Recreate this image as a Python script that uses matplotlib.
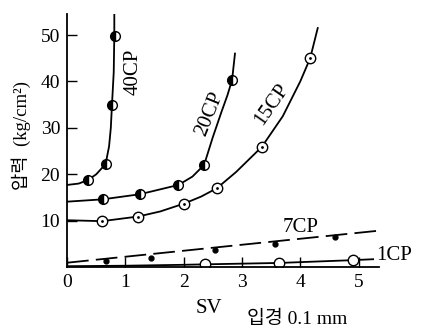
import matplotlib
matplotlib.use("Agg")
import matplotlib.pyplot as plt

plt.rcParams['font.family'] = ['Liberation Serif', 'Noto Sans CJK KR']

# curve traces (x = SV, y = pressure kg/cm2)
cp40_line_x = [0, 0.2, 0.365, 0.5, 0.66, 0.72, 0.75, 0.77, 0.8, 0.81, 0.81]
cp40_line_y = [17.7, 18.0, 18.8, 20.0, 22.2, 26.0, 30.0, 35.0, 42.0, 50.0, 55.0]
cp40_x = [0.365, 0.66, 0.77, 0.83]
cp40_y = [18.8, 22.2, 34.9, 49.8]

cp20_line_x = [0, 0.61, 1.25, 1.91, 2.15, 2.35, 2.5, 2.65, 2.75, 2.83, 2.88]
cp20_line_y = [14.1, 14.6, 15.7, 17.7, 19.5, 22.0, 28.0, 33.5, 37.0, 40.3, 46.0]
cp20_x = [0.61, 1.25, 1.91, 2.35, 2.83]
cp20_y = [14.6, 15.7, 17.7, 22.0, 40.3]

cp15_line_x = [0, 0.3, 0.6, 1.22, 1.6, 2.01, 2.3, 2.57, 2.9, 3.34, 3.7, 4.0, 4.17, 4.3]
cp15_line_y = [10.1, 10.0, 9.9, 10.9, 12.0, 13.7, 15.2, 17.0, 20.5, 25.9, 32.5, 40.0, 45.0, 51.5]
cp15_x = [0.6, 1.22, 2.01, 2.57, 3.34, 4.17]
cp15_y = [9.9, 10.9, 13.7, 17.0, 25.9, 45.0]

cp7_line_x = [0, 5.31]
cp7_line_y = [0.95, 7.8]
cp7_x = [0.67, 1.44, 2.54, 3.57, 4.6]
cp7_y = [1.3, 1.9, 3.7, 4.9, 6.4]

cp1_line_x = [0, 1.0, 2.0, 2.37, 3.64, 4.9, 5.25]
cp1_line_y = [0.2, 0.3, 0.5, 0.6, 0.9, 1.5, 1.7]
cp1_x = [2.37, 3.64, 4.9]
cp1_y = [0.6, 0.9, 1.5]

x_ticks = [0, 1, 2, 3, 4, 5]
y_ticks = [10, 20, 30, 40, 50]

fig = plt.figure(figsize=(4.22, 3.36), dpi=100)
ax = fig.add_axes([0.159, 0.205, 0.739, 0.753])

lw = 1.3
ax.plot(cp40_line_x, cp40_line_y, color='black', lw=lw)
ax.plot(cp40_x, cp40_y, 'o', ms=7, mfc='black', mfcalt='white', mec='black',
        fillstyle='left', mew=1.0)

ax.plot(cp20_line_x, cp20_line_y, color='black', lw=lw)
ax.plot(cp20_x, cp20_y, 'o', ms=7, mfc='black', mfcalt='white', mec='black',
        fillstyle='left', mew=1.0)

ax.plot(cp15_line_x, cp15_line_y, color='black', lw=lw)
ax.plot(cp15_x, cp15_y, 'o', ms=7.5, mfc='white', mec='black', mew=1.0)
ax.plot(cp15_x, cp15_y, '.', ms=2, color='black')

ax.plot(cp7_line_x, cp7_line_y, color='black', lw=lw, ls=(0, (12, 4)))
ax.plot(cp7_x, cp7_y, 'o', ms=3.5, color='black')

ax.plot(cp1_line_x, cp1_line_y, color='black', lw=lw)
ax.plot(cp1_x, cp1_y, 'o', ms=7.5, mfc='white', mec='black', mew=1.0)

# curve labels
lab = dict(fontsize=15, ha='center', va='center')
ax.text(1.14, 42, '40CP', rotation=90, **lab)
ax.text(2.45, 33, '20CP', rotation=68, **lab)
ax.text(3.52, 35, '15CP', rotation=55, **lab)
ax.text(4.01, 8.5, '7CP', **lab)
ax.text(5.61, 2.4, '1CP', clip_on=False, **lab)

ax.set_xlim(0, 5.35)
ax.set_ylim(0, 54.5)
ax.set_xticks(x_ticks)
ax.set_yticks(y_ticks)
ax.tick_params(direction='in', length=7, width=1, labelsize=14)
ax.tick_params(axis='x', pad=5)
ax.tick_params(axis='y', pad=5)
for s in ['top', 'right']:
    ax.spines[s].set_visible(False)
for s in ['left', 'bottom']:
    ax.spines[s].set_linewidth(1.3)

ax.set_xlabel('SV', fontsize=15)
ax.xaxis.set_label_coords(0.455, -0.125)
ax.set_ylabel('압력  (kg/cm²)', fontsize=13.5)
ax.yaxis.set_label_coords(-0.115, 0.52)

fig.text(0.705, 0.05, '입경 0.1 mm', fontsize=14, ha='center', va='center')

fig.savefig('out.png', dpi=100)
